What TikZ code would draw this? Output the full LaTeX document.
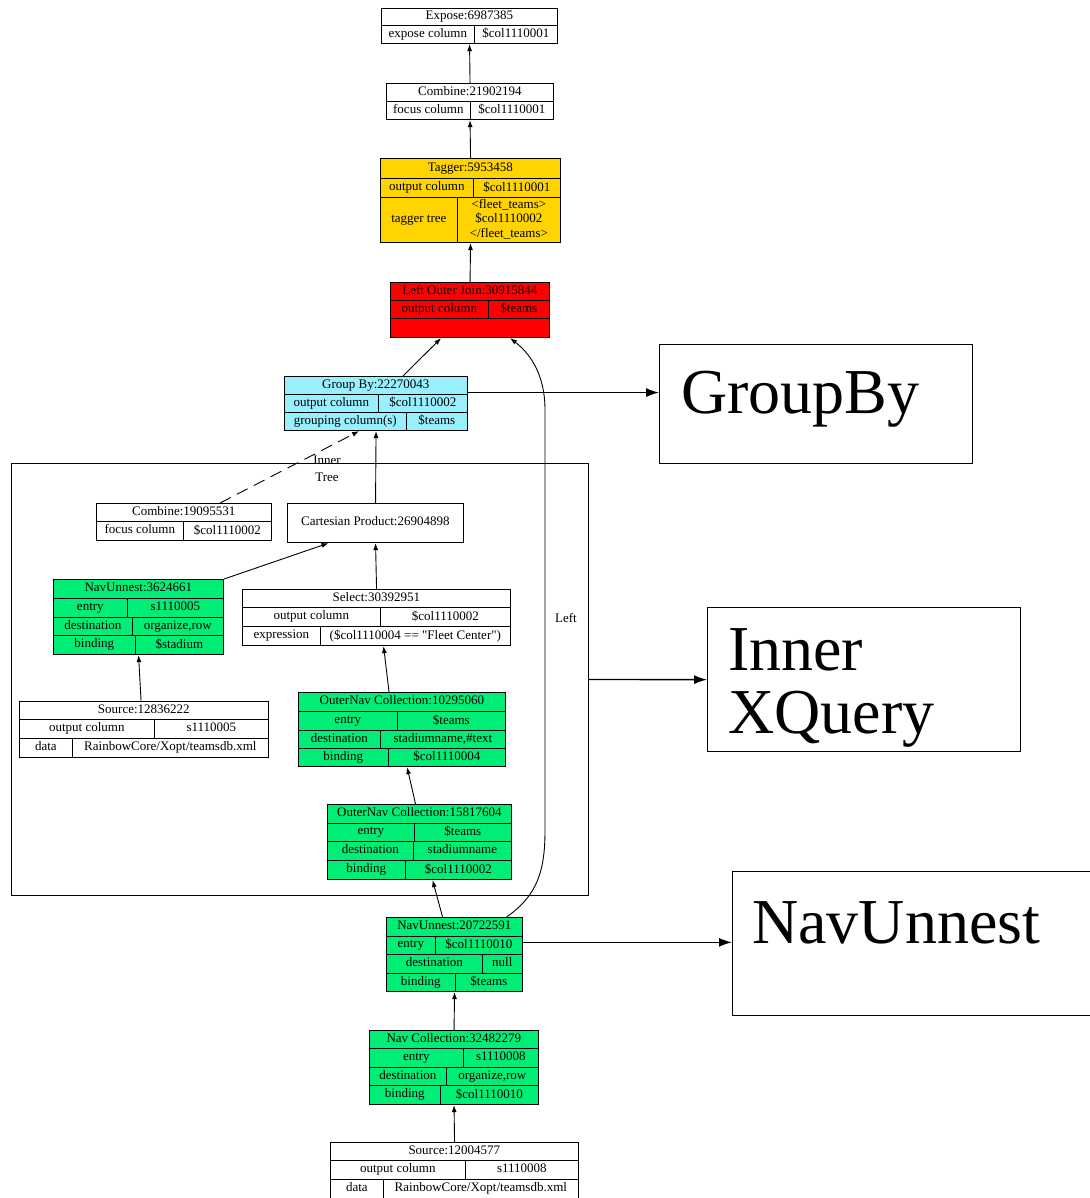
\documentclass[tikz,border=0pt]{standalone}
\usepackage{fontspec}
\setmainfont{Liberation Serif}
\usetikzlibrary{arrows.meta}

\definecolor{taggold}{RGB}{255,212,0}
\definecolor{joinred}{RGB}{255,0,0}
\definecolor{groupcyan}{RGB}{152,240,255}
\definecolor{navgreen}{RGB}{0,238,118}

\newcommand{\cellstrut}{\rule[-3pt]{0pt}{10pt}}

\tikzset{
  tabcell/.style={draw, line width=0.7pt, inner sep=0pt, anchor=north west, align=center,
    font=\fontsize{13}{14.5}\selectfont, execute at begin node=\cellstrut},
  tabframe/.style={draw, line width=1.1pt, inner sep=0pt, anchor=north west},
  dep/.style={-{Latex[length=7pt,width=5pt]}, line width=0.9pt},
  link/.style={-{Latex[length=13pt,width=9pt]}, line width=1.3pt},
  bigtext/.style={anchor=base west, inner sep=0pt, font=\fontsize{64}{64}\selectfont},
}

% one full-width cell: name, x1, y1, x2, y2, fill, text
\newcommand{\ttitle}[7]{\node[tabcell,fill=#6,minimum width={(#4-#2)*1pt},minimum height={(#5-#3)*1pt}] (#1) at (#2,#3) {#7};}
% a row split in two cells: name, x1, y1, x2, y2, split, left, right, fill
\newcommand{\trow}[9]{%
  \node[tabcell,fill=#9,minimum width={(#6-#2)*1pt},minimum height={(#5-#3)*1pt}] (#1-l) at (#2,#3) {#7};
  \node[tabcell,fill=#9,minimum width={(#4-#6)*1pt},minimum height={(#5-#3)*1pt}] (#1-r) at (#6,#3) {#8};}
% outer border of a table
\newcommand{\tframe}[5]{\node[tabframe,minimum width={(#4-#2)*1pt},minimum height={(#5-#3)*1pt}] (#1) at (#2,#3) {};}

\begin{document}
\begin{tikzpicture}[x=1pt,y=-1pt]
\useasboundingbox (0,0) rectangle (1089,1198);

% the inner tree cluster
\node[tabframe,minimum width=577pt,minimum height=432pt] (innertree) at (11,463) {};
\node[align=center,inner sep=0pt,font=\fontsize{13}{17}\selectfont] (treelabel) at (327,469) {Inner\\Tree};

% top of the plan
\ttitle{expose-t}{381}{8}{557}{25}{white}{Expose:6987385}
\trow{expose-1}{381}{25}{557}{43}{474}{expose column}{\$col1110001}{white}
\tframe{expose}{381}{8}{557}{43}

\ttitle{combine1-t}{386}{83}{553}{101}{white}{Combine:21902194}
\trow{combine1-1}{386}{101}{553}{119}{470}{focus column}{\$col1110001}{white}
\tframe{combine1}{386}{83}{553}{119}

\ttitle{tagger-t}{380}{158}{560}{178}{taggold}{Tagger:5953458}
\trow{tagger-1}{380}{178}{560}{197}{473}{output column}{\$col1110001}{taggold}
\trow{tagger-2}{380}{197}{560}{242}{457}{tagger tree}{<fleet\_teams>\\\$col1110002\\</fleet\_teams>}{taggold}
\tframe{tagger}{380}{158}{560}{242}

\ttitle{join-t}{390}{282}{549}{300}{joinred}{Left Outer Join:30915844}
\trow{join-1}{390}{300}{549}{318}{488}{output column}{\$teams}{joinred}
\ttitle{join-2}{390}{318}{549}{337}{joinred}{}
\tframe{join}{390}{282}{549}{337}

\ttitle{groupby-t}{284}{376}{467}{394}{groupcyan}{Group By:22270043}
\trow{groupby-1}{284}{394}{467}{412}{378}{output column}{\$col1110002}{groupcyan}
\trow{groupby-2}{284}{412}{467}{430}{406}{grouping column(s)}{\$teams}{groupcyan}
\tframe{groupby}{284}{376}{467}{430}

% inside the cluster
\ttitle{combine2-t}{96}{503}{271}{521}{white}{Combine:19095531}
\trow{combine2-1}{96}{521}{271}{540}{183}{focus column}{\$col1110002}{white}
\tframe{combine2}{96}{503}{271}{540}

\ttitle{cartesian-t}{287}{503}{463}{542}{white}{Cartesian Product:26904898}
\tframe{cartesian}{287}{503}{463}{542}

\ttitle{navunnest1-t}{53}{579}{223}{598}{navgreen}{NavUnnest:3624661}
\trow{navunnest1-1}{53}{598}{223}{617}{127}{entry}{s1110005}{navgreen}
\trow{navunnest1-2}{53}{617}{223}{635}{132}{destination}{organize,row}{navgreen}
\trow{navunnest1-3}{53}{635}{223}{654}{135}{binding}{\$stadium}{navgreen}
\tframe{navunnest1}{53}{579}{223}{654}

\ttitle{select-t}{242}{589}{510}{607}{white}{Select:30392951}
\trow{select-1}{242}{607}{510}{626}{380}{output column}{\$col1110002}{white}
\trow{select-2}{242}{626}{510}{645}{320}{expression}{(\$col1110004 == \textquotedbl Fleet Center\textquotedbl)}{white}
\tframe{select}{242}{589}{510}{645}

\ttitle{source1-t}{19}{701}{268}{719}{white}{Source:12836222}
\trow{source1-1}{19}{719}{268}{738}{154}{output column}{s1110005}{white}
\trow{source1-2}{19}{738}{268}{757}{72}{data}{RainbowCore/Xopt/teamsdb.xml}{white}
\tframe{source1}{19}{701}{268}{757}

\ttitle{outernav1-t}{298}{692}{505}{711}{navgreen}{OuterNav Collection:10295060}
\trow{outernav1-1}{298}{711}{505}{730}{397}{entry}{\$teams}{navgreen}
\trow{outernav1-2}{298}{730}{505}{748}{380}{destination}{stadiumname,\#text}{navgreen}
\trow{outernav1-3}{298}{748}{505}{766}{388}{binding}{\$col1110004}{navgreen}
\tframe{outernav1}{298}{692}{505}{766}

\ttitle{outernav2-t}{327}{804}{511}{823}{navgreen}{OuterNav Collection:15817604}
\trow{outernav2-1}{327}{823}{511}{841}{414}{entry}{\$teams}{navgreen}
\trow{outernav2-2}{327}{841}{511}{860}{413}{destination}{stadiumname}{navgreen}
\trow{outernav2-3}{327}{860}{511}{879}{405}{binding}{\$col1110002}{navgreen}
\tframe{outernav2}{327}{804}{511}{879}

% bottom of the plan
\ttitle{navunnest2-t}{386}{917}{522}{936}{navgreen}{NavUnnest:20722591}
\trow{navunnest2-1}{386}{936}{522}{954}{435}{entry}{\$col1110010}{navgreen}
\trow{navunnest2-2}{386}{954}{522}{973}{482}{destination}{null}{navgreen}
\trow{navunnest2-3}{386}{973}{522}{991}{455}{binding}{\$teams}{navgreen}
\tframe{navunnest2}{386}{917}{522}{991}

\ttitle{navcoll-t}{369}{1030}{538}{1048}{navgreen}{Nav Collection:32482279}
\trow{navcoll-1}{369}{1048}{538}{1067}{463}{entry}{s1110008}{navgreen}
\trow{navcoll-2}{369}{1067}{538}{1085}{446}{destination}{organize,row}{navgreen}
\trow{navcoll-3}{369}{1085}{538}{1104}{440}{binding}{\$col1110010}{navgreen}
\tframe{navcoll}{369}{1030}{538}{1104}

\ttitle{source2-t}{330}{1142}{578}{1160}{white}{Source:12004577}
\trow{source2-1}{330}{1160}{578}{1179}{465}{output column}{s1110008}{white}
\trow{source2-2}{330}{1179}{578}{1198}{383}{data}{RainbowCore/Xopt/teamsdb.xml}{white}
\tframe{source2}{330}{1142}{578}{1198}

% callout boxes
\node[tabframe,line width=1.3pt,minimum width=313pt,minimum height=119pt] (groupbybox) at (659,344) {};
\node[bigtext] (groupbytext) at (681,413) {GroupBy};
\node[tabframe,line width=1.3pt,minimum width=313pt,minimum height=144pt] (xquerybox) at (707,607) {};
\node[bigtext] (xquerytext1) at (728,670) {Inner};
\node[bigtext] (xquerytext2) at (728,733) {XQuery};
\node[tabframe,line width=1.3pt,minimum width=370pt,minimum height=144pt] (navunnestbox) at (732,871) {};
\node[bigtext] (navunnesttext) at (752,943) {NavUnnest};

% plan edges
\draw[dep] (combine1.north) -- (expose.south);
\draw[dep] (tagger.north) -- (combine1.south);
\draw[dep] (join.north) -- (tagger.south);
\draw[dep] ([xshift=27pt]groupby.north) -- ([xshift=-29pt]join.south);
\coordinate (leftA) at (545,830);
\coordinate (leftB) at (545,410);
\draw[dep] ([xshift=52pt]navunnest2.north) .. controls (538,895) and (545,870) .. (leftA)
  -- (leftB) .. controls (545,372) and (528,352) .. ([xshift=40pt]join.south);
\node[font=\fontsize{13}{14}\selectfont] (leftlabel) at (566,618) {Left};
\draw[dep] (cartesian.north) -- (groupby.south);
\draw[dep,dashed,dash pattern=on 12pt off 7pt] ([xshift=36pt]combine2.north) -- ([xshift=-17pt]groupby.south);
\draw[dep] (navunnest1.north east) -- ([xshift=-47pt]cartesian.south);
\draw[dep] (select.north) -- (cartesian.south);
\draw[dep] ([xshift=-3pt]source1.north) -- (navunnest1.south);
\draw[dep] ([xshift=-13pt]outernav1.north) -- ([xshift=7pt]select.south);
\draw[dep] ([xshift=-4pt]outernav2.north) -- ([xshift=5pt]outernav1.south);
\draw[dep] ([xshift=-12pt]navunnest2.north) -- ([xshift=13pt]outernav2.south);
\draw[dep] (navcoll.north) -- (navunnest2.south);
\draw[dep] (source2.north) -- (navcoll.south);

% links to the callouts
\draw[link] ([yshift=11pt]groupby.east) -- ([yshift=11pt]groupby.east -| groupbybox.west);
\draw[link] (innertree.east) -- (xquerybox.west);
\draw[link] ([yshift=3pt]navunnest2-1-r.east) -- ([yshift=3pt]navunnest2-1-r.east -| navunnestbox.west);
\end{tikzpicture}
\end{document}
